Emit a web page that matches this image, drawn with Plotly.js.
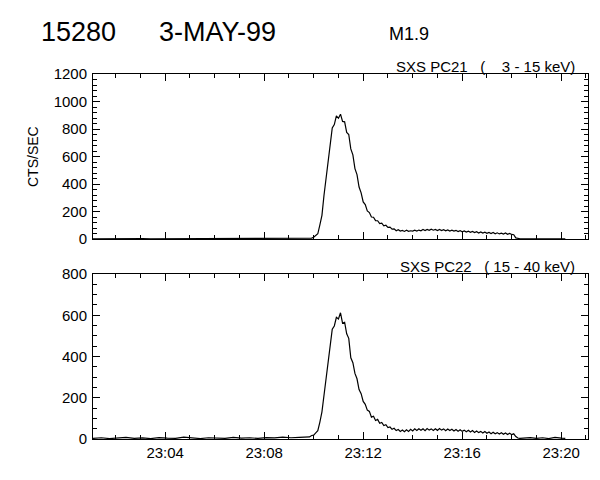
<!DOCTYPE html>
<html>
<head>
<meta charset="utf-8">
<script src="https://cdn.plot.ly/plotly-3.0.1.min.js"></script>
<style>
  html, body { margin: 0; padding: 0; background: #fff; }
  #chart { width: 600px; height: 480px; }
</style>
</head>
<body>
<div id="chart"></div>
<script>
// Time of each sample, in seconds after 23:00:00 on 3-May-1999
const secs = [
  65, 85, 105, 125, 145, 165, 185, 205, 225, 245, 265, 285, 305, 325, 345, 365, 385, 405, 425, 445,
  465, 485, 505, 525, 545, 565, 585,
  590, 595, 600, 605, 610, 615, 620, 625, 630, 635,
  640, 645, 650, 655, 660, 665, 670, 675, 680, 685,
  690, 695, 700, 705, 710, 715, 720, 725, 730, 735,
  740, 745, 750, 755, 760, 765, 770, 775, 780, 785,
  790, 795, 800, 805, 810, 815, 820, 825, 830, 835,
  840, 845, 850, 855, 860, 865, 870, 875, 880, 885,
  890, 895, 900, 905, 910, 915, 920, 925, 930, 935,
  940, 945, 950, 955, 960, 965, 970, 975, 980, 985,
  990, 995, 1000, 1005, 1010, 1015, 1020, 1025, 1030, 1035,
  1040, 1045, 1050, 1055, 1060, 1065, 1070, 1075, 1080, 1085,
  1090, 1095, 1100,
  1110, 1125, 1140, 1155, 1170, 1185, 1200, 1210
];

// SXS PC21 (3 - 15 keV), counts/sec
const pc21 = [
  2, 3, 2, 2, 3, 2, 3, 2, 2, 3, 2, 2, 3, 3, 2, 3, 2, 3, 3, 2,
  3, 3, 2, 3, 3, 2, 2,
  2, 7, 13, 26, 38, 102, 172, 318, 442, 590,
  705, 808, 832, 896, 878, 908, 855, 852, 775, 760,
  655, 612, 512, 468, 378, 336, 270, 250, 204, 192,
  160, 158, 134, 133, 112, 115, 96, 100, 84, 86,
  72, 74, 60, 68, 58, 62, 55, 64, 56, 60,
  57, 64, 58, 65, 60, 69, 62, 70, 63, 71,
  64, 69, 62, 70, 61, 68, 60, 66, 58, 64,
  57, 63, 54, 61, 52, 59, 50, 57, 49, 55,
  47, 53, 44, 51, 43, 49, 41, 48, 40, 47,
  38, 45, 37, 43, 36, 44, 34, 40, 33, 31,
  8, 3, 2,
  2, 2, 3, 2, 2, 3, 2, 2
];

// SXS PC22 (15 - 40 keV), counts/sec
const pc22 = [
  3, 6, 2, 4, 8, 3, 5, 2, 7, 4, 3, 9, 4, 2, 6, 5, 3, 8, 4, 6,
  3, 7, 5, 9, 6, 8, 10,
  10, 17, 19, 30, 40, 82, 132, 212, 292, 378,
  450, 532, 548, 590, 582, 612, 562, 566, 510, 488,
  394, 370, 318, 292, 240, 220, 182, 168, 140, 134,
  106, 110, 90, 95, 76, 80, 65, 69, 55, 58,
  47, 52, 41, 46, 37, 44, 35, 45, 37, 47,
  39, 49, 41, 50, 42, 49, 40, 51, 43, 49,
  41, 50, 42, 51, 43, 49, 40, 48, 41, 47,
  39, 46, 38, 45, 37, 43, 35, 42, 34, 41,
  32, 39, 31, 37, 29, 36, 28, 34, 26, 33,
  25, 31, 24, 30, 23, 29, 22, 28, 21, 25,
  12, 5, 3,
  4, 7, 3, 6, 2, 8, 4, 3
];

const pc21Ticks = [0, 200, 400, 600, 800, 1000, 1200];
const pc22Ticks = [0, 200, 400, 600, 800];

function pad(n) { return (n < 10 ? '0' : '') + n; }
function toTime(s) {
  const m = Math.floor(s / 60), ss = s % 60;
  return '1999-05-03 23:' + pad(m) + ':' + pad(ss);
}
const times = secs.map(toTime);

const FONT = 'Liberation Sans, Arial, sans-serif';
const tickFont = { family: FONT, size: 15, color: '#000' };

const xCommon = {
  type: 'date',
  range: ['1999-05-03 23:01:05', '1999-05-03 23:21:05'],
  tick0: '1999-05-03 23:00:00',
  dtick: 240000,
  tickformat: '%H:%M',
  ticks: 'inside', ticklen: 7, tickwidth: 1, tickcolor: '#000',
  minor: { dtick: 60000, ticks: 'inside', ticklen: 4, tickwidth: 1, tickcolor: '#000', showgrid: false },
  showline: true, linecolor: '#000', linewidth: 1, mirror: 'allticks',
  showgrid: false, zeroline: false,
  tickfont: tickFont
};
const yCommon = {
  ticks: 'inside', ticklen: 7, tickwidth: 1, tickcolor: '#000',
  showline: true, linecolor: '#000', linewidth: 1, mirror: 'allticks',
  showgrid: false, zeroline: false,
  tickfont: tickFont, ticklabelstandoff: 2
};

const data = [
  { x: times, y: pc21, type: 'scatter', mode: 'lines', xaxis: 'x', yaxis: 'y',
    line: { color: '#000', width: 1.2, shape: 'linear' }, hoverinfo: 'skip' },
  { x: times, y: pc22, type: 'scatter', mode: 'lines', xaxis: 'x2', yaxis: 'y2',
    line: { color: '#000', width: 1.2, shape: 'linear' }, hoverinfo: 'skip' }
];

// margins put the plotting boxes at the reference pixel positions
const L = 93, R = 12, T = 74, B = 41;
const W = 600 - L - R, H = 480 - T - B;
const px = v => (v - L) / W;
const py = v => (480 - B - v) / H;

const layout = {
  width: 600, height: 480,
  margin: { l: L, r: R, t: T, b: B, pad: 0 },
  paper_bgcolor: '#fff', plot_bgcolor: '#fff',
  showlegend: false,
  xaxis: Object.assign({}, xCommon, { anchor: 'y', showticklabels: false, matches: 'x2' }),
  xaxis2: Object.assign({}, xCommon, { anchor: 'y2', showticklabels: true }),
  yaxis: Object.assign({}, yCommon, { domain: [py(239), 1], range: [0, 1200], tickvals: pc21Ticks,
    minor: { dtick: 40, ticks: 'inside', ticklen: 4, tickwidth: 1, tickcolor: '#000', showgrid: false } }),
  yaxis2: Object.assign({}, yCommon, { domain: [0, py(274)], range: [0, 800], tickvals: pc22Ticks,
    minor: { dtick: 50, ticks: 'inside', ticklen: 4, tickwidth: 1, tickcolor: '#000', showgrid: false } }),
  annotations: [
    { text: '15280', xref: 'paper', yref: 'paper', x: px(39), y: py(32), xanchor: 'left', yanchor: 'middle',
      showarrow: false, font: { family: FONT, size: 27, color: '#000' } },
    { text: '3-MAY-99', xref: 'paper', yref: 'paper', x: px(157), y: py(32), xanchor: 'left', yanchor: 'middle',
      showarrow: false, font: { family: FONT, size: 27, color: '#000' } },
    { text: 'M1.9', xref: 'paper', yref: 'paper', x: px(387), y: py(34), xanchor: 'left', yanchor: 'middle',
      showarrow: false, font: { family: FONT, size: 18, color: '#000' } },
    { text: 'SXS PC21\u00a0\u00a0\u00a0(\u00a0\u00a0\u00a0\u00a03 - 15 keV)', xref: 'paper', yref: 'paper', x: px(577), y: py(66),
      xanchor: 'right', yanchor: 'middle', showarrow: false, font: { family: FONT, size: 15, color: '#000' } },
    { text: 'SXS PC22\u00a0\u00a0\u00a0(\u00a015 - 40 keV)', xref: 'paper', yref: 'paper', x: px(577), y: py(266),
      xanchor: 'right', yanchor: 'middle', showarrow: false, font: { family: FONT, size: 15, color: '#000' } },
    { text: 'CTS/SEC', xref: 'paper', yref: 'paper', x: px(33), y: py(157), xanchor: 'center', yanchor: 'middle',
      textangle: -90, showarrow: false, font: { family: FONT, size: 14, color: '#000' } }
  ]
};

Plotly.newPlot('chart', data, layout, { staticPlot: true, displayModeBar: false });
</script>
</body>
</html>
